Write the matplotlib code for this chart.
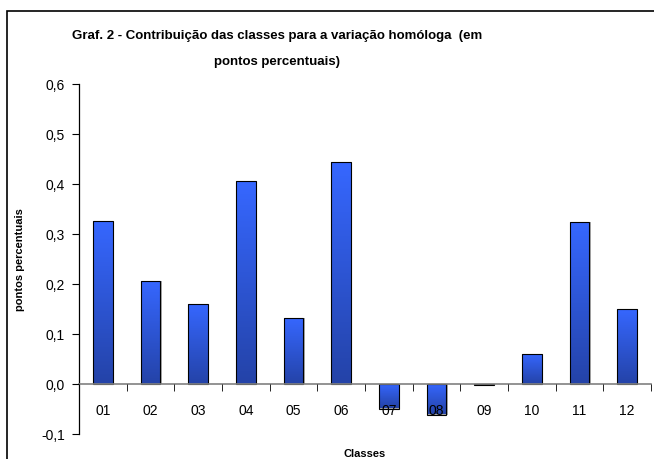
import numpy as np
import matplotlib
matplotlib.use('Agg')
import matplotlib.pyplot as plt
from matplotlib.patches import Rectangle
from matplotlib.colors import LinearSegmentedColormap

# contribution of each class to the year-on-year change (p.p.)
classes = ['01', '02', '03', '04', '05', '06', '07', '08', '09', '10', '11', '12']
values = [0.327, 0.207, 0.161, 0.406, 0.133, 0.444, -0.049, -0.061, -0.002, 0.061, 0.325, 0.151]
yticks = [-0.1, 0.0, 0.1, 0.2, 0.3, 0.4, 0.5, 0.6]
ytick_labels = ['-0,1', '0,0', '0,1', '0,2', '0,3', '0,4', '0,5', '0,6']

plt.rcParams['font.family'] = ['Liberation Sans', 'DejaVu Sans']

W, H = 654, 460
fig = plt.figure(figsize=(W / 100, H / 100), dpi=100)
ax = fig.add_axes([79 / W, 1 - 435 / H, (651 - 79) / W, 350 / H])
ax.set_axisbelow(False)  # tick labels 07 / 08 sit on top of the bars

x = np.arange(len(classes))
# light grey shadow on the right of each bar
ax.bar(x + 0.03, values, width=0.41, color='#a8a8a8', linewidth=0, zorder=1.5)
bars = ax.bar(x, values, width=0.41, color='none', edgecolor='black', linewidth=0.8, zorder=2)

# vertical gradient inside each bar, light on top, dark at the bottom
cmap = LinearSegmentedColormap.from_list('bl', ['#2443a8', '#3667ff'])
grad = np.linspace(0, 1, 100).reshape(-1, 1)
for b in bars:
    x0, w = b.get_x(), b.get_width()
    y0, h = b.get_y(), b.get_height()
    lo, hi = min(y0, y0 + h), max(y0, y0 + h)
    im = ax.imshow(grad, cmap=cmap, extent=[x0, x0 + w, lo, hi], origin='lower',
                   aspect='auto', zorder=1.9, interpolation='bilinear')
    im.set_clip_path(b)

ax.set_xlim(-0.5, len(classes) - 0.5)
ax.set_ylim(-0.1, 0.6)
ax.set_yticks(yticks)
ax.set_yticklabels(ytick_labels, fontsize=10)
ax.set_xticks(x)
ax.set_xticklabels(classes, fontsize=10)
ax.set_xticks(np.arange(0.5, len(classes), 1.0), minor=True)

for s in ['top', 'right']:
    ax.spines[s].set_visible(False)
ax.spines['bottom'].set_position(('data', 0))
ax.spines['bottom'].set_color('#808080')
ax.spines['bottom'].set_linewidth(1.2)
ax.spines['left'].set_linewidth(0.9)
ax.tick_params(axis='x', which='major', length=0, pad=14)
ax.tick_params(axis='x', which='minor', length=5, direction='out', color='black')
ax.tick_params(axis='y', length=5, direction='out', pad=5)

ax.set_ylabel('pontos percentuais', fontsize=8, fontweight='bold', labelpad=12)
fig.text(365 / W, 1 - 454 / H, 'Classes', fontsize=8, fontweight='bold', ha='center', va='center')

fig.text(277 / W, 1 - 36 / H, 'Graf. 2 - Contribuição das classes para a variação homóloga  (em',
         fontsize=9.5, fontweight='bold', ha='center', va='center')
fig.text(277 / W, 1 - 62 / H, 'pontos percentuais)', fontsize=9.5, fontweight='bold',
         ha='center', va='center')

# chart border (runs past the right and bottom edge of the image)
fig.patches.append(Rectangle((7 / W, -0.1), 1.0, 1.1 - 12 / H, transform=fig.transFigure,
                             fill=False, edgecolor='black', linewidth=1.2))

fig.savefig('out.png', dpi=100)
